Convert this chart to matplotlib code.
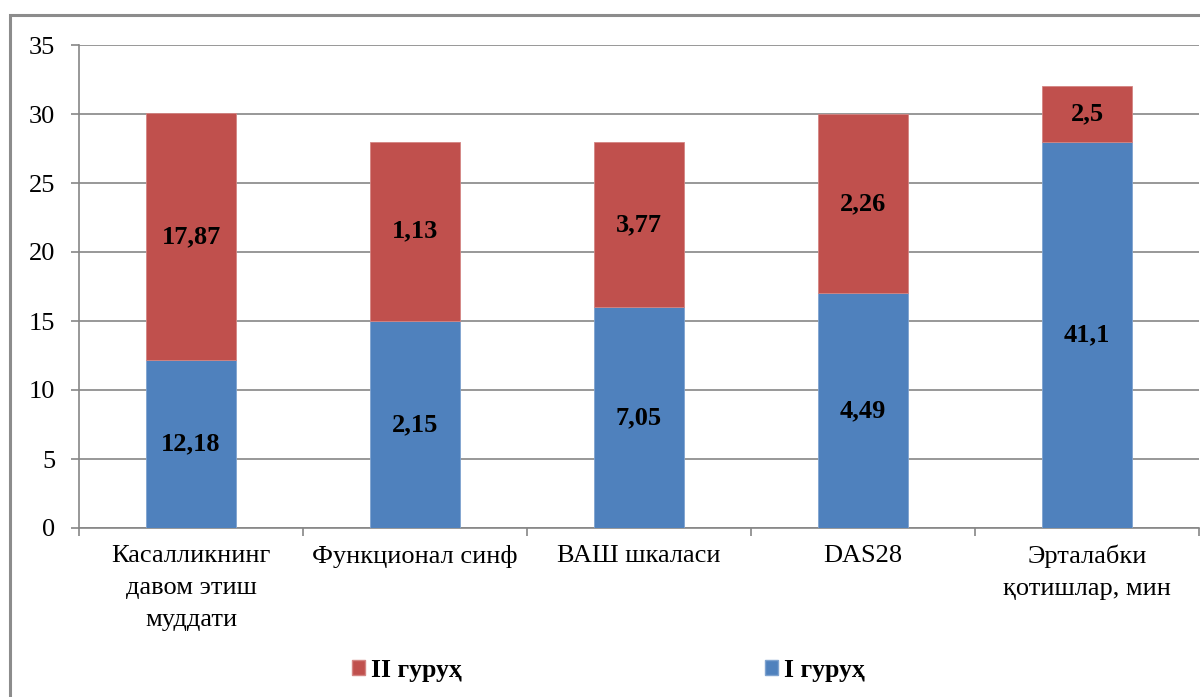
import numpy as np
import matplotlib.pyplot as plt
from matplotlib.patches import Rectangle, Patch

plt.rcParams['font.family'] = ['Liberation Serif', 'DejaVu Serif']

# categories and segment heights
categories = ['Касалликнинг\nдавом этиш\nмуддати', 'Функционал синф',
              'ВАШ шкаласи', 'DAS28', 'Эрталабки\nқотишлар, мин']
group1 = [12.18, 15.0, 16.0, 17.0, 28.0]
group2 = [17.87, 13.0, 12.0, 13.0, 4.0]
# printed values on the segments
group1_labels = ['12,18', '2,15', '7,05', '4,49', '41,1']
group2_labels = ['17,87', '1,13', '3,77', '2,26', '2,5']

blue = '#4F81BD'
red = '#C0504D'
grid_col = '#868686'

fig = plt.figure(figsize=(12, 6.97), dpi=100)
ax = fig.add_axes([79 / 1200, 1 - 528 / 697, 1120 / 1200, 483 / 697])

x = np.arange(len(categories))
w = 0.4
ax.bar(x, group1, w, color=blue, edgecolor='#7fa3cf', linewidth=0.6, zorder=3)
ax.bar(x, group2, w, bottom=group1, color=red, edgecolor='#d48583', linewidth=0.6, zorder=3)

for i in range(len(x)):
    ax.text(x[i], group1[i] / 2, group1_labels[i], ha='center', va='center',
            fontsize=19, fontweight='bold', zorder=4)
    ax.text(x[i], group1[i] + group2[i] / 2, group2_labels[i], ha='center', va='center',
            fontsize=19, fontweight='bold', zorder=4)

ax.set_xlim(-0.5, len(categories) - 0.5)
ax.set_ylim(0, 35)
ax.set_yticks(np.arange(0, 36, 5))
ax.yaxis.grid(True, color=grid_col, linewidth=1.2, zorder=0)

ax.set_xticks(x)
ax.set_xticklabels(categories, fontsize=19, linespacing=1.6, va='top')
ax.set_xticks(np.arange(-0.5, len(categories)), minor=True)
ax.tick_params(axis='x', which='major', length=0, pad=12)
ax.tick_params(axis='x', which='minor', length=6, color=grid_col, width=1.2)
ax.tick_params(axis='y', length=6, color=grid_col, width=1.2, labelsize=19, pad=11)

for s in ['top', 'right']:
    ax.spines[s].set_visible(False)
for s in ['left', 'bottom']:
    ax.spines[s].set_color(grid_col)
    ax.spines[s].set_linewidth(1.2)

# outer chart frame
fig.patches.append(Rectangle((10 / 1200, -0.1), 1.2, (697 - 15) / 697 + 0.1,
                             transform=fig.transFigure, fill=False,
                             edgecolor='#8c8c8c', linewidth=2.2))

handles = [Patch(facecolor=red, edgecolor='#d48583'), Patch(facecolor=blue, edgecolor='#7fa3cf')]
fig.legend(handles, ['II гуруҳ', 'I гуруҳ'], loc='center', bbox_to_anchor=(0.507, 1 - 670 / 697),
           ncol=2, frameon=False, prop={'size': 18.5, 'weight': 'bold'},
           handlelength=0.5, handleheight=0.5, handletextpad=0.25, columnspacing=11.8)

fig.savefig('out.png', dpi=100)
